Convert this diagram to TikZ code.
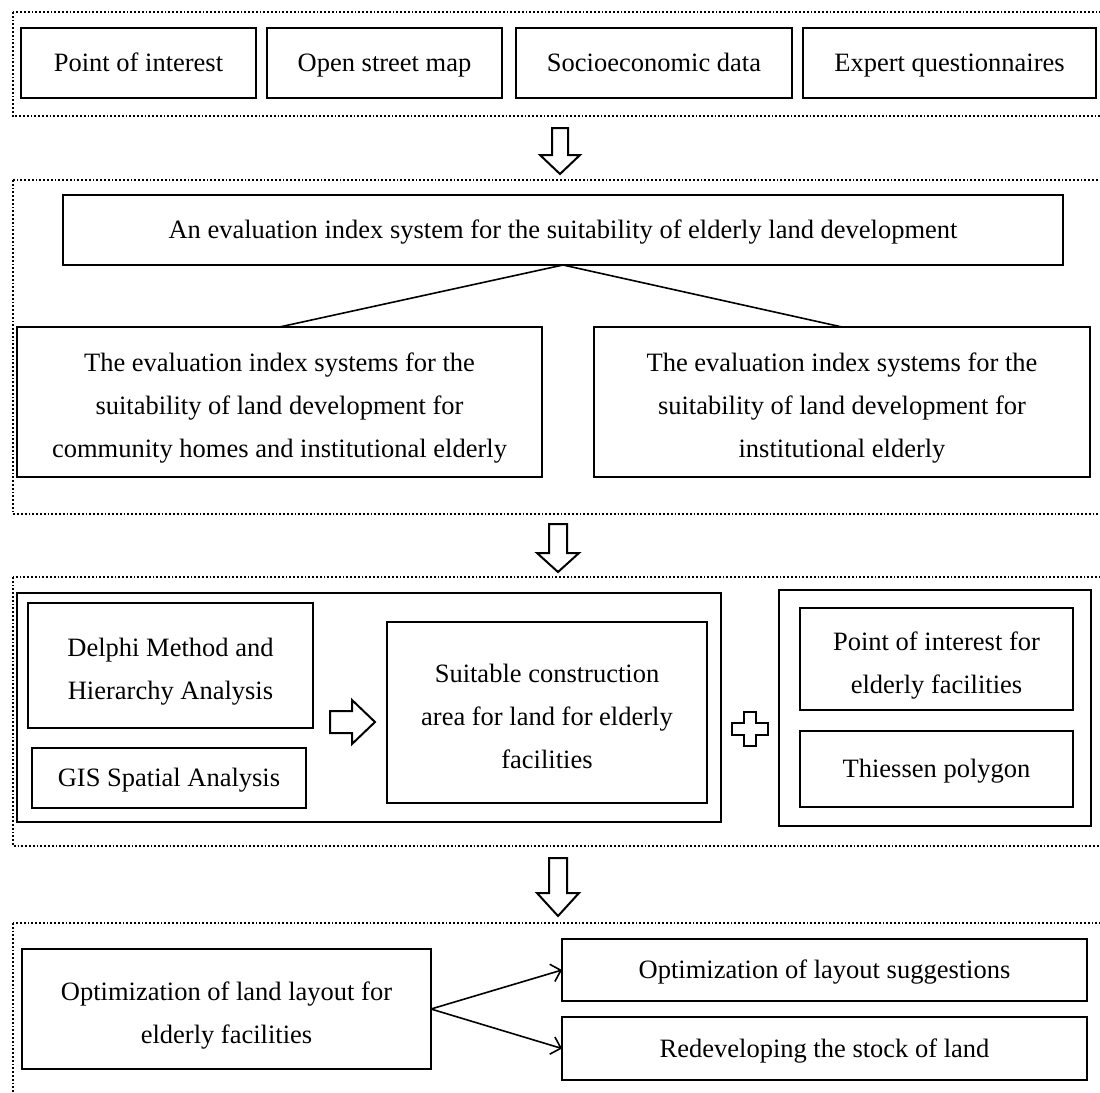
\documentclass[tikz,border=0pt]{standalone}
\usepackage{fontspec}
\setmainfont{Liberation Serif}
\usepackage{tikz}
\usetikzlibrary{positioning}
\usetikzlibrary{arrows.meta}

\newcommand{\firstline}{\rule{0pt}{38pt}}

\tikzset{
  frame/.style={draw, line width=1.8pt, dash pattern=on 1.8pt off 2pt},
  box/.style={draw, line width=2.4pt, align=center, inner sep=0pt, outer sep=0pt,
    anchor=north west, font=\fontsize{26.5}{43}\selectfont,
    execute at begin node=\strut},
  bigarrow/.style={draw, line width=2pt, fill=white, line join=miter},
  link/.style={line width=1.6pt},
}

\begin{document}
\begin{tikzpicture}[x=1pt,y=-1pt]
\useasboundingbox (0,0) rectangle (1100,1092);
\clip (0,0) rectangle (1100,1092);

%data sources
\draw[frame] (13,12) rectangle (1120,116);
\node[box, minimum width=235pt, minimum height=70pt] (poi) at (21,28) {Point of interest\strut};
\node[box, minimum width=235pt, minimum height=70pt, right=11pt of poi] (osm) {Open street map\strut};
\node[box, minimum width=276pt, minimum height=70pt, right=14pt of osm] (socio) {Socioeconomic data\strut};
\node[box, minimum width=293pt, minimum height=70pt, right=11pt of socio] (expert) {Expert questionnaires\strut};

\draw[bigarrow] (552,128) -- ++(16,0) -- ++(0,27) -- ++(12,0) -- (560,174) -- (540,155) -- ++(12,0) -- cycle;

%index systems
\draw[frame] (13,180) rectangle (1120,514);
\node[box, minimum width=1000pt, minimum height=70pt] (index) at (63,195)
  {An evaluation index system for the suitability of elderly land development\strut};
\node[box, minimum width=525pt, minimum height=150pt] (comm) at (17,327)
  {\firstline The evaluation index systems for the\\suitability of land development for\\community homes and institutional elderly\strut};
\node[box, minimum width=496pt, minimum height=150pt, right=52pt of comm] (inst)
  {\firstline The evaluation index systems for the\\suitability of land development for\\institutional elderly\strut};
\draw[link] (index.south) -- (comm.north);
\draw[link] (index.south) -- (inst.north);

\draw[bigarrow] (549,524) -- ++(18,0) -- ++(0,29) -- ++(12,0) -- (558,572) -- (537,553) -- ++(12,0) -- cycle;

%analysis
\draw[frame] (13,577) rectangle (1120,846);
\node[box, minimum width=704pt, minimum height=229pt] (methods) at (17,593) {};
\node[box, minimum width=285pt, minimum height=125pt] (delphi) at (28,603) {\firstline Delphi Method and\\Hierarchy Analysis\strut};
\node[box, minimum width=274pt, minimum height=60pt] (gis) at (32,748) {GIS Spatial Analysis\strut};
\node[box, minimum width=320pt, minimum height=181pt] (suit) at (387,622)
  {\firstline Suitable construction\\area for land for elderly\\facilities\strut};
\node[box, minimum width=312pt, minimum height=236pt] (facil) at (779,590) {};
\node[box, minimum width=273pt, minimum height=102pt] (poiel) at (800,608) {\firstline Point of interest for\\elderly facilities\strut};
\node[box, minimum width=273pt, minimum height=76pt] (thiessen) at (800,731) {Thiessen polygon\strut};

\draw[bigarrow] (330,711) -- (352,711) -- (352,700) -- (375,722) -- (352,744) -- (352,733) -- (330,733) -- cycle;
\draw[bigarrow] (744,712) -- ++(12,0) -- ++(0,11) -- ++(12,0) -- ++(0,12) -- ++(-12,0) -- ++(0,11)
  -- ++(-12,0) -- ++(0,-11) -- ++(-12,0) -- ++(0,-12) -- ++(12,0) -- cycle;

\draw[bigarrow] (549,858) -- ++(18,0) -- ++(0,35) -- ++(12,0) -- (558,916) -- (537,893) -- ++(12,0) -- cycle;

%layout optimization
\draw[frame] (13,923) rectangle (1120,1120);
\node[box, minimum width=409pt, minimum height=120pt] (optland) at (22,949)
  {\firstline Optimization of land layout for\\elderly facilities\strut};
\node[box, minimum width=525pt, minimum height=62pt] (optsug) at (562,939) {Optimization of layout suggestions\strut};
\node[box, minimum width=525pt, minimum height=63pt] (redev) at (562,1017) {Redeveloping the stock of land\strut};
\draw[link, -{Straight Barb[length=9pt, width=18pt]}] (optland.east) -- (optsug.west);
\draw[link, -{Straight Barb[length=9pt, width=18pt]}] (optland.east) -- (redev.west);
\end{tikzpicture}
\end{document}
